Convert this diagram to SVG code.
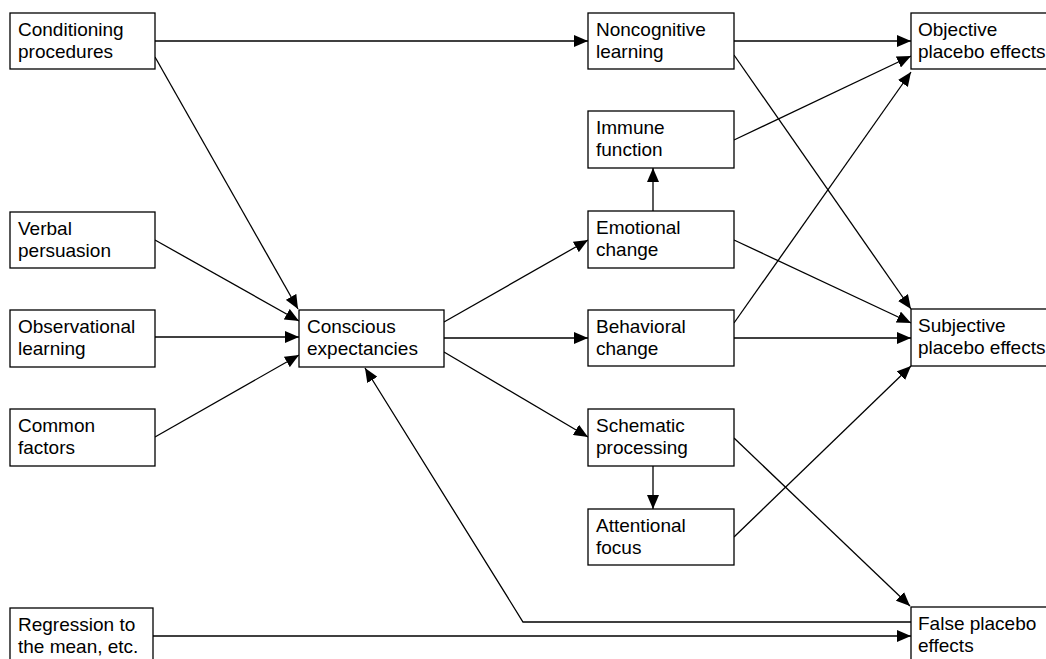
<svg xmlns="http://www.w3.org/2000/svg" width="1046" height="659" viewBox="0 0 1046 659">
<defs>
<marker id="ah" markerUnits="userSpaceOnUse" markerWidth="14" markerHeight="12" refX="14" refY="6" orient="auto">
<path d="M0,0 L14,6 L0,12 z" fill="#000"/>
</marker>
<style>
.box{fill:#fff;stroke:#000;stroke-width:1.3}
.t{font-family:"Liberation Sans",Arial,sans-serif;font-size:19px;fill:#000}
.c{fill:none;stroke:#000;stroke-width:1.3;marker-end:url(#ah)}
</style>
</defs>
<rect width="1046" height="659" fill="#fff"/>
<g id="connectors">
<line class="c" x1="155" y1="41" x2="588" y2="41"/>
<line class="c" x1="155" y1="57" x2="298" y2="309"/>
<line class="c" x1="155" y1="240" x2="299" y2="321"/>
<line class="c" x1="155" y1="337" x2="299" y2="337"/>
<line class="c" x1="155" y1="437" x2="299" y2="355"/>
<line class="c" x1="444" y1="322" x2="588" y2="240"/>
<line class="c" x1="444" y1="338" x2="588" y2="338"/>
<line class="c" x1="444" y1="352" x2="588" y2="437"/>
<line class="c" x1="653" y1="211" x2="653" y2="168"/>
<line class="c" x1="653" y1="466" x2="653" y2="509"/>
<line class="c" x1="734" y1="41" x2="911" y2="41"/>
<line class="c" x1="734" y1="140" x2="911" y2="56"/>
<line class="c" x1="734" y1="323" x2="911" y2="72"/>
<line class="c" x1="734" y1="55" x2="911" y2="309"/>
<line class="c" x1="734" y1="240" x2="911" y2="323"/>
<line class="c" x1="734" y1="338" x2="911" y2="338"/>
<line class="c" x1="734" y1="537" x2="911" y2="366"/>
<line class="c" x1="734" y1="438" x2="910" y2="606"/>
<polyline class="c" points="911,622 523,622 365,368"/>
<line class="c" x1="153" y1="636" x2="911" y2="636"/>
</g>
<g id="cond"><rect class="box" x="10" y="13" width="145" height="56"/><text class="t" x="18" y="36">Conditioning</text><text class="t" x="18" y="58">procedures</text></g>
<g id="verbal"><rect class="box" x="10" y="212" width="145" height="56"/><text class="t" x="18" y="235">Verbal</text><text class="t" x="18" y="257">persuasion</text></g>
<g id="observational"><rect class="box" x="10" y="310" width="145" height="57"/><text class="t" x="18" y="333">Observational</text><text class="t" x="18" y="355">learning</text></g>
<g id="common"><rect class="box" x="10" y="409" width="145" height="57"/><text class="t" x="18" y="432">Common</text><text class="t" x="18" y="454">factors</text></g>
<g id="regression"><rect class="box" x="10" y="608" width="143" height="60"/><text class="t" x="18" y="631">Regression to</text><text class="t" x="18" y="653">the mean, etc.</text></g>
<g id="conscious"><rect class="box" x="299" y="310" width="145" height="57"/><text class="t" x="307" y="333">Conscious</text><text class="t" x="307" y="355">expectancies</text></g>
<g id="noncognitive"><rect class="box" x="588" y="13" width="146" height="56"/><text class="t" x="596" y="36">Noncognitive</text><text class="t" x="596" y="58">learning</text></g>
<g id="immune"><rect class="box" x="588" y="111" width="146" height="57"/><text class="t" x="596" y="134">Immune</text><text class="t" x="596" y="156">function</text></g>
<g id="emotional"><rect class="box" x="588" y="211" width="146" height="57"/><text class="t" x="596" y="234">Emotional</text><text class="t" x="596" y="256">change</text></g>
<g id="behavioral"><rect class="box" x="588" y="310" width="146" height="56"/><text class="t" x="596" y="333">Behavioral</text><text class="t" x="596" y="355">change</text></g>
<g id="schematic"><rect class="box" x="588" y="409" width="146" height="57"/><text class="t" x="596" y="432">Schematic</text><text class="t" x="596" y="454">processing</text></g>
<g id="attentional"><rect class="box" x="588" y="509" width="146" height="56"/><text class="t" x="596" y="532">Attentional</text><text class="t" x="596" y="554">focus</text></g>
<g id="objective"><rect class="box" x="911" y="13" width="150" height="56"/><text class="t" x="918" y="36">Objective</text><text class="t" x="918" y="58">placebo effects</text></g>
<g id="subjective"><rect class="box" x="911" y="309" width="150" height="57"/><text class="t" x="918" y="332">Subjective</text><text class="t" x="918" y="354">placebo effects</text></g>
<g id="false"><rect class="box" x="911" y="607" width="150" height="60"/><text class="t" x="918" y="630">False placebo</text><text class="t" x="918" y="652">effects</text></g>
</svg>
